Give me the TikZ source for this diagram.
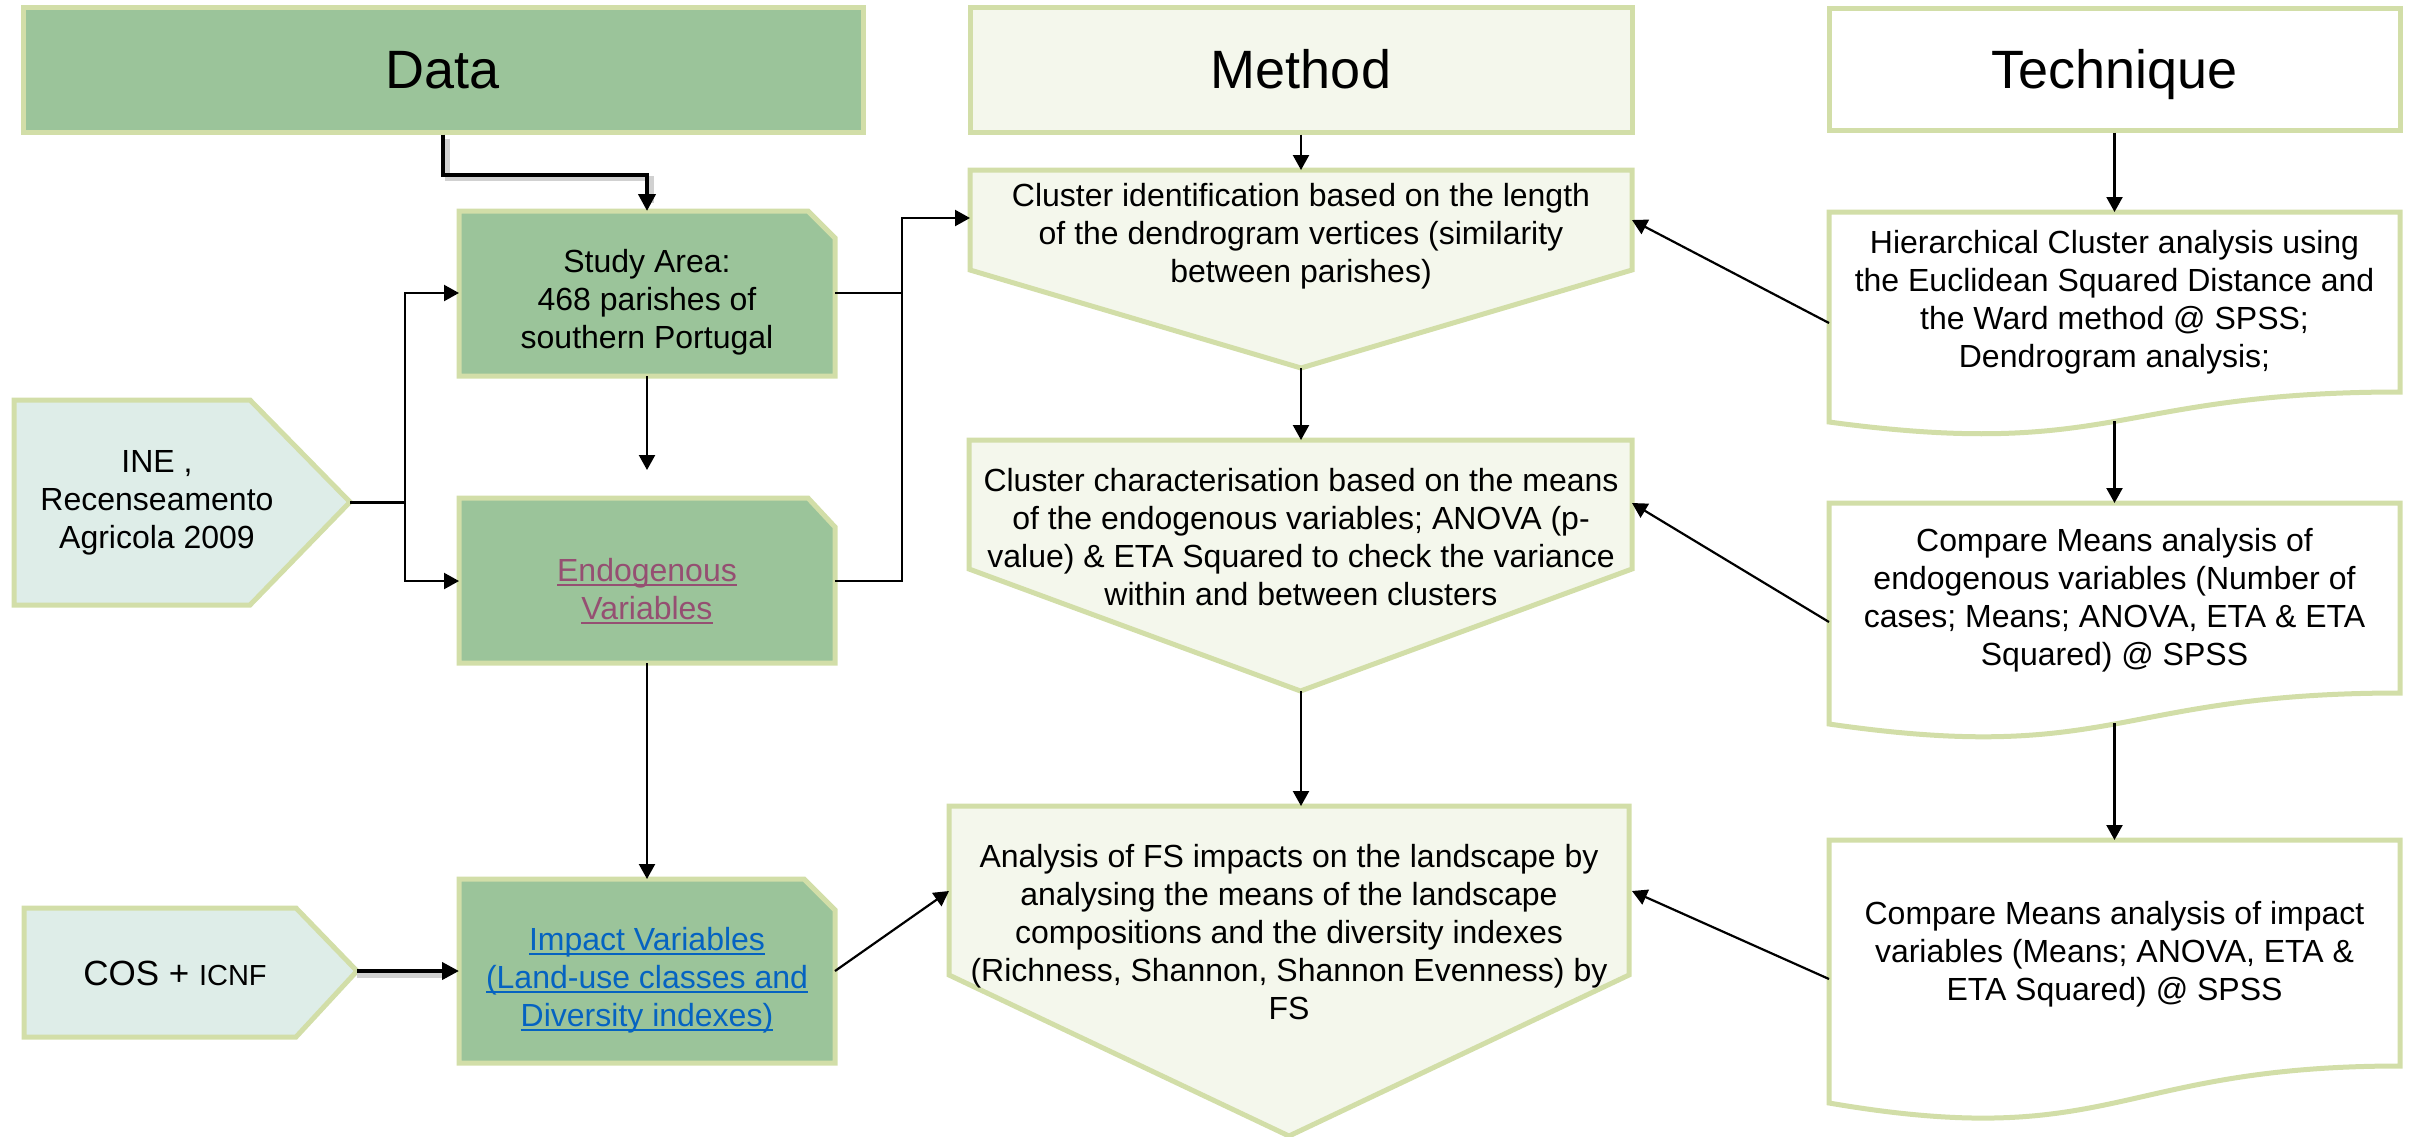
\documentclass[tikz,border=0pt]{standalone}
\usepackage{fontspec}
\setmainfont{Liberation Sans}
\usetikzlibrary{arrows.meta}
\definecolor{darkfill}{RGB}{155,196,154}
\definecolor{edgecol}{RGB}{210,222,168}
\definecolor{lightfill}{RGB}{244,247,236}
\definecolor{bluefill}{RGB}{222,237,232}
\definecolor{endocol}{RGB}{149,79,114}
\definecolor{linkcol}{RGB}{5,99,193}
\newcommand{\myul}[1]{\setbox0\hbox{#1}\rlap{\rule[-0.16em]{\wd0}{0.06em}}\box0}
\begin{document}
\begin{tikzpicture}[x=1pt,y=-1pt,
  boxline/.style={draw=edgecol,line width=5pt,line join=miter},
  hdr/.style={boxline,inner sep=0pt,font=\fontsize{54}{60}\selectfont,text height=38pt,text depth=0pt},
  body/.style={align=center,inner sep=0pt,font=\fontsize{32}{38}\selectfont},
  conn/.style={line width=2.2pt,-{Triangle[length=15pt,width=16pt]}},
  plainline/.style={line width=2.2pt},
  bigconn/.style={line width=4pt,-{Triangle[length=17pt,width=17pt]}},
  shadowline/.style={line width=5pt,draw=black!18}]
\useasboundingbox (0,0) rectangle (2410,1136);

% ---------- headers ----------
\node[hdr,fill=darkfill,minimum width=840pt,minimum height=125pt] (data) at (443,69.5) {Data};
\node[hdr,fill=lightfill,minimum width=662pt,minimum height=125pt] (method) at (1301,69.5) {Method};
\node[hdr,fill=white,minimum width=571pt,minimum height=122pt] (tech) at (2114.5,69) {Technique};

% ---------- data column shapes ----------
\path[boxline,fill=bluefill] (14,400) -- (250,400) -- (350,502) -- (250,605) -- (14,605) -- cycle;
\path[boxline,fill=bluefill] (24,908) -- (296,908) -- (357,971) -- (296,1037) -- (24,1037) -- cycle;
\path[boxline,fill=darkfill] (459,211) -- (808,211) -- (835,238) -- (835,376) -- (459,376) -- cycle;
\path[boxline,fill=darkfill] (459,498) -- (808,498) -- (835,527) -- (835,663) -- (459,663) -- cycle;
\path[boxline,fill=darkfill] (459,879) -- (804,879) -- (835,910) -- (835,1063) -- (459,1063) -- cycle;

% ---------- method column shapes ----------
\path[boxline,fill=lightfill] (970,170) -- (1632,170) -- (1632,270) -- (1301,368) -- (970,270) -- cycle;
\path[boxline,fill=lightfill] (969,440) -- (1632,440) -- (1632,569) -- (1300.5,691) -- (969,569) -- cycle;
\path[boxline,fill=lightfill] (949,806) -- (1629,806) -- (1629,975) -- (1289,1136) -- (949,975) -- cycle;

% ---------- technique column shapes ----------
\path[boxline,fill=white] (1829,212) -- (2400,212) -- (2400,392) .. controls (2114.5,392) and (2114.5,460.5) .. (1829,422) -- cycle;
\path[boxline,fill=white] (1829,503) -- (2400,503) -- (2400,693) .. controls (2114.5,693) and (2114.5,765.4) .. (1829,724) -- cycle;
\path[boxline,fill=white] (1829,840) -- (2400,840) -- (2400,1066) .. controls (2114.5,1066) and (2114.5,1152) .. (1829,1103) -- cycle;

% ---------- texts ----------
\node[body] (ine) at (157,503) {INE ,\\Recenseamento\\Agricola 2009};
\node[inner sep=0pt] (cos) at (175,973) {\fontsize{35}{40}\selectfont COS + {\fontsize{29}{34}\selectfont ICNF}};
\node[body] (study) at (647,302) {Study Area:\\468 parishes of\\southern Portugal};
\node[body,text=endocol] (endo) at (647,591) {\myul{Endogenous}\\\myul{Variables}};
\node[body,text=linkcol] (impact) at (647,980) {\myul{Impact Variables}\\\myul{(Land-use classes and}\\\myul{Diversity indexes)}};
\node[body] (clid) at (1301,236) {Cluster identification based on the length\\of the dendrogram vertices (similarity\\between parishes)};
\node[body] (clch) at (1301,537) {Cluster characterisation based on the means\\of the endogenous variables; ANOVA (p-\\value) \& ETA Squared to check the variance\\within and between clusters};
\node[body] (anal) at (1289,932) {Analysis of FS impacts on the landscape by\\analysing the means of the landscape\\compositions and the diversity indexes\\(Richness, Shannon, Shannon Evenness) by\\FS};
\node[body] (hier) at (2114.5,302) {Hierarchical Cluster analysis using\\the Euclidean Squared Distance and\\the Ward method @ SPSS;\\Dendrogram analysis;};
\node[body] (cmpen) at (2114.5,600) {Compare Means analysis of\\endogenous variables (Number of\\cases; Means; ANOVA, ETA \& ETA\\Squared) @ SPSS};
\node[body] (cmpim) at (2114.5,954) {Compare Means analysis of impact\\variables (Means; ANOVA, ETA \&\\ETA Squared) @ SPSS};

% ---------- connection points ----------
\coordinate (ineP) at (350,502);
\coordinate (ineJ) at (405,502);
\coordinate (cosP) at (357,971);
\coordinate (studyN) at (647,211);
\coordinate (studyS) at (647,376);
\coordinate (studyE) at (835,293);
\coordinate (studyW) at (459,293);
\coordinate (endoN) at (647,470);
\coordinate (endoS) at (647,663);
\coordinate (endoE) at (835,581);
\coordinate (endoW) at (459,581);
\coordinate (impN) at (647,879);
\coordinate (impE) at (835,971);
\coordinate (impW) at (459,971);
\coordinate (busX) at (902,218);
\coordinate (clidW) at (970,218);
\coordinate (clidE) at (1632,220);
\coordinate (clidN) at (1301,170);
\coordinate (clidS) at (1301,368);
\coordinate (clchN) at (1301,440);
\coordinate (clchS) at (1301,691);
\coordinate (clchE) at (1632,503);
\coordinate (analN) at (1301,806);
\coordinate (analW) at (949,891);
\coordinate (analE) at (1632,891);
\coordinate (hierN) at (2114.5,212);
\coordinate (hierS) at (2114.5,421);
\coordinate (hierW) at (1829,323);
\coordinate (cmpenN) at (2114.5,503);
\coordinate (cmpenS) at (2114.5,723);
\coordinate (cmpenW) at (1829,622);
\coordinate (cmpimN) at (2114.5,840);
\coordinate (cmpimW) at (1829,979);

% ---------- connectors ----------
% Data -> Study (thick with shadow)
\draw[shadowline] ([shift={(4,4)}]data.south) -- ++(0,40) -| ([shift={(4,-8)}]studyN);
\draw[bigconn] (data.south) -- ++(0,40) -| (studyN);
% INE -> Study / Endogenous
\draw[line width=3pt] (ineP) -- (ineJ);
\draw[conn] (ineJ) |- (studyW);
\draw[conn] (ineJ) |- (endoW);
% Study -> Endogenous -> Impact
\draw[conn] (studyS) -- (endoN);
\draw[conn] (endoS) -- (impN);
% COS -> Impact
\draw[shadowline] ([shift={(0,4)}]cosP) -- ([shift={(-12,4)}]impW);
\draw[bigconn] (cosP) -- (impW);
% Study / Endogenous -> Cluster identification
\draw[plainline] (studyE) -| (busX);
\draw[conn] (endoE) -| (busX) -- (clidW);
% Method column
\draw[conn] (method.south) -- (clidN);
\draw[conn] (clidS) -- (clchN);
\draw[conn] (clchS) -- (analN);
\draw[conn] (impE) -- (analW);
% Technique column
\draw[conn] (tech.south) -- (hierN);
\draw[conn] (hierS) -- (cmpenN);
\draw[conn] (cmpenS) -- (cmpimN);
\draw[conn] (hierW) -- (clidE);
\draw[conn] (cmpenW) -- (clchE);
\draw[conn] (cmpimW) -- (analE);
\end{tikzpicture}
\end{document}
